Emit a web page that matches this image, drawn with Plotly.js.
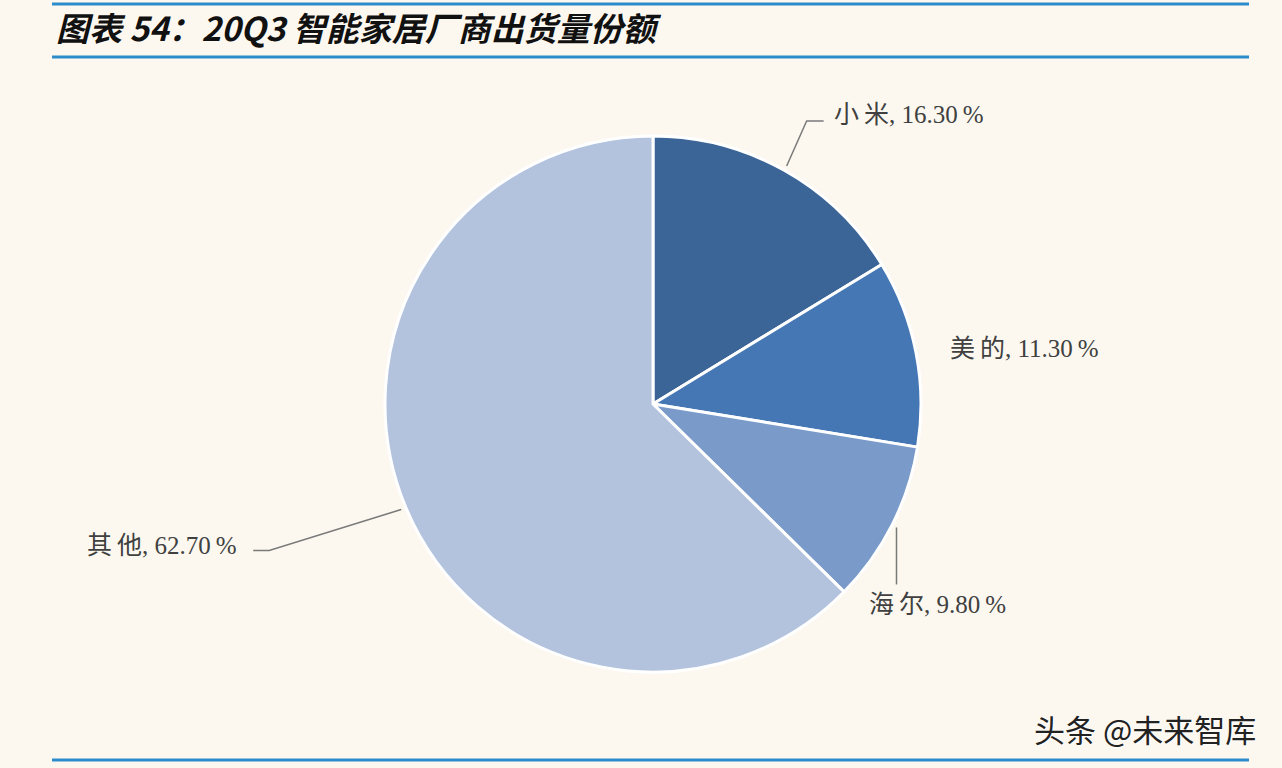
<!DOCTYPE html>
<html>
<head>
<meta charset="utf-8">
<script src="https://cdn.plot.ly/plotly-3.0.1.min.js"></script>
<style>
  html, body { margin: 0; padding: 0; background: #fcf8f0; }
  #chart { width: 1282px; height: 768px; }
</style>
</head>
<body>
<div id="chart"></div>
<script>
// 20Q3 smart home vendor shipment share
var brands = ['小米', '美的', '海尔', '其他'];
var shares = [16.3, 11.3, 9.8, 62.7];
var sliceColors = ['#3b6497', '#4677b5', '#7a9bc9', '#b3c3de'];

var W = 1282, H = 768;
var cx = 653, cy = 404, R = 268; // pie centre and radius in px

// label leader styling per slice: elbow offset from edge point, tail length, text offset
var leaders = [
    { elbow: [20, -45], tail: 17, textDx: 8, textDy: -6, anchor: 'left', valign: 'middle' },
    { elbow: null, tail: 0, textDx: 27, textDy: -3, anchor: 'left', valign: 'middle' },
    { elbow: [0, 57], tail: 0, textDx: -29, textDy: 5, anchor: 'left', valign: 'top' },
    { elbow: [-132, 41], tail: -16, textDx: -14, textDy: -5, anchor: 'right', valign: 'middle' }
];

function px(x) { return x / W; }
function py(y) { return 1 - y / H; }

var total = shares.reduce(function(a, b) { return a + b; }, 0);
var shapes = [];
var annotations = [];

// blue rules above/below title and at the bottom
[4, 57, 760].forEach(function(y) {
    shapes.push({
        type: 'line', xref: 'paper', yref: 'paper',
        x0: px(52), x1: px(1249), y0: py(y), y1: py(y),
        line: { color: '#2b8bcb', width: 3 }
    });
});

var start = 0;
shares.forEach(function(v, i) {
    var mid = (start + v / 2) / total * 2 * Math.PI; // clockwise from 12 o'clock
    start += v;
    var ax = cx + (R + 5) * Math.sin(mid);
    var ay = cy - (R + 5) * Math.cos(mid);
    var st = leaders[i];
    var tx = ax, ty = ay;
    if (st.elbow) {
        var bx = ax + st.elbow[0], by = ay + st.elbow[1];
        var ex = bx + st.tail;
        var path = 'M' + px(ax) + ',' + py(ay) + ' L' + px(bx) + ',' + py(by);
        if (st.tail) path += ' L' + px(ex) + ',' + py(by);
        shapes.push({
            type: 'path', xref: 'paper', yref: 'paper', path: path,
            line: { color: '#7a7a7a', width: 1.5 }
        });
        tx = ex; ty = by;
    }
    annotations.push({
        xref: 'paper', yref: 'paper',
        x: px(tx + st.textDx), y: py(ty + st.textDy),
        xanchor: st.anchor, yanchor: st.valign,
        text: brands[i].split('').join('\u2009') + ', ' + v.toFixed(2) + '\u2009%',
        showarrow: false,
        font: { family: 'Liberation Serif, Noto Sans CJK SC', size: 25, color: '#404040' }
    });
});

// chart title
annotations.push({
    xref: 'paper', yref: 'paper', x: px(54), y: py(27),
    xanchor: 'left', yanchor: 'middle', showarrow: false,
    text: '图表 54：20Q3 智能家居厂商出货量份额',
    font: { family: 'Noto Sans CJK SC', size: 33, color: '#111', weight: 'bold', style: 'italic' }
});

// watermark
annotations.push({
    xref: 'paper', yref: 'paper', x: px(1258), y: py(728),
    xanchor: 'right', yanchor: 'middle', showarrow: false,
    text: '头条 @未来智库',
    font: { family: 'Noto Sans CJK SC', size: 31, color: '#222',
            shadow: '1px 1px 2px #fff' }
});

var trace = {
    type: 'pie',
    labels: brands,
    values: shares,
    sort: false,
    direction: 'clockwise',
    rotation: 0,
    textinfo: 'none',
    hoverinfo: 'label+percent',
    marker: { colors: sliceColors, line: { color: '#ffffff', width: 3 } },
    domain: { x: [px(cx - R), px(cx + R)], y: [py(cy + R), py(cy - R)] }
};

var layout = {
    width: W, height: H,
    margin: { l: 0, r: 0, t: 0, b: 0 },
    paper_bgcolor: '#fcf8f0',
    plot_bgcolor: '#fcf8f0',
    showlegend: false,
    shapes: shapes,
    annotations: annotations
};

Plotly.newPlot('chart', [trace], layout, { displayModeBar: false, staticPlot: true });
</script>
</body>
</html>
